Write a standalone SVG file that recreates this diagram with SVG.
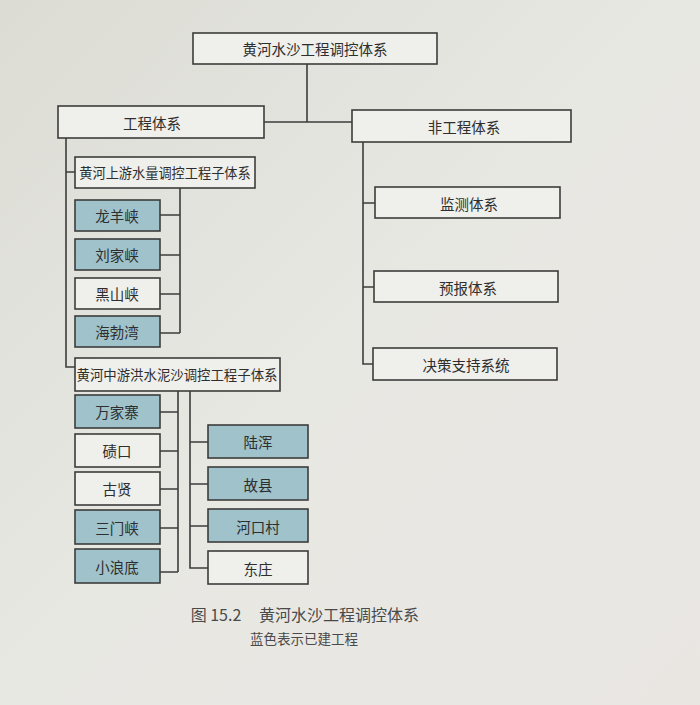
<svg xmlns="http://www.w3.org/2000/svg" width="700" height="705" viewBox="0 0 700 705">
<defs>
<linearGradient id="bg" x1="0" y1="0" x2="1" y2="1">
<stop offset="0" stop-color="#dcdcd5"/>
<stop offset="0.5" stop-color="#e8e8e3"/>
<stop offset="1" stop-color="#e9e6e2"/>
</linearGradient>
</defs>
<style>
.b{fill:#efefeb;stroke:#3c3c3c;stroke-width:1.6}
.blue{fill:#9fc2cb;stroke:#3c3c3c;stroke-width:1.6}
.t{font-family:"Noto Sans CJK SC","Noto Sans CJK JP",sans-serif;font-size:14.5px;fill:#2e2e2e;text-anchor:middle;dominant-baseline:central}
.c{fill:none;stroke:#3c3c3c;stroke-width:1.6}
.cap{font-family:"Noto Sans CJK SC",sans-serif;fill:#4a4a4a;text-anchor:middle;dominant-baseline:central}
</style>
<rect width="700" height="705" fill="url(#bg)"/>
<g id="connectors" class="c">
<path d="M307 64V122M264 122H352"/>
<path d="M66 138V367H75M66 172H75"/>
<path d="M180 188V333M160 215H180M160 255H180M160 294H180M160 333H180"/>
<path d="M178 391V572M160 412H178M160 451H178M160 489H178M160 528H178M160 572H178"/>
<path d="M190 391V568H208M190 442H208M190 484H208M190 526H208"/>
<path d="M363 142V364H374M363 203H375M363 287H374"/>
</g>
<g id="root"><rect class="b" x="193" y="33" width="244" height="31"/><text class="t" x="315" y="48">黄河水沙工程调控体系</text></g>
<g id="gc"><rect class="b" x="58" y="106" width="206" height="32"/><text class="t" x="152" y="122">工程体系</text></g>
<g id="fgc"><rect class="b" x="352" y="110" width="219" height="32"/><text class="t" x="464" y="126">非工程体系</text></g>
<g id="sy"><rect class="b" x="75" y="157" width="180" height="31"/><text class="t" x="165" y="172" style="font-size:13.2px">黄河上游水量调控工程子体系</text></g>
<g id="lyx"><rect class="blue" x="75" y="200" width="85" height="31"/><text class="t" x="117" y="215">龙羊峡</text></g>
<g id="ljx"><rect class="blue" x="75" y="239" width="85" height="31"/><text class="t" x="117" y="254">刘家峡</text></g>
<g id="hsx"><rect class="b" x="75" y="278" width="85" height="31"/><text class="t" x="117" y="293">黑山峡</text></g>
<g id="hbw"><rect class="blue" x="75" y="316" width="85" height="31"/><text class="t" x="117" y="331">海勃湾</text></g>
<g id="zy"><rect class="b" x="75" y="358" width="205" height="33"/><text class="t" x="177" y="374" style="font-size:13.4px">黄河中游洪水泥沙调控工程子体系</text></g>
<g id="wjz"><rect class="blue" x="75" y="395" width="85" height="33"/><text class="t" x="117" y="411">万家寨</text></g>
<g id="qk"><rect class="b" x="75" y="434" width="85" height="33"/><text class="t" x="117" y="450">碛口</text></g>
<g id="gx"><rect class="b" x="75" y="472" width="85" height="33"/><text class="t" x="117" y="488">古贤</text></g>
<g id="smx"><rect class="blue" x="75" y="510" width="85" height="34"/><text class="t" x="117" y="527">三门峡</text></g>
<g id="xld"><rect class="blue" x="75" y="549" width="85" height="34"/><text class="t" x="117" y="566">小浪底</text></g>
<g id="lh"><rect class="blue" x="208" y="425" width="100" height="33"/><text class="t" x="258" y="441">陆浑</text></g>
<g id="gux"><rect class="blue" x="208" y="467" width="100" height="33"/><text class="t" x="258" y="484">故县</text></g>
<g id="hkc"><rect class="blue" x="208" y="509" width="100" height="33"/><text class="t" x="258" y="526">河口村</text></g>
<g id="dz"><rect class="b" x="208" y="551" width="100" height="33"/><text class="t" x="258" y="568">东庄</text></g>
<g id="jc"><rect class="b" x="375" y="187" width="185" height="31"/><text class="t" x="469" y="203">监测体系</text></g>
<g id="yb"><rect class="b" x="374" y="271" width="184" height="31"/><text class="t" x="468" y="287">预报体系</text></g>
<g id="jczc"><rect class="b" x="373" y="348" width="184" height="32"/><text class="t" x="466" y="364">决策支持系统</text></g>
<text class="cap" x="216" y="614" style="font-size:16px">图 15.2</text>
<text class="cap" x="339" y="614" style="font-size:16px">黄河水沙工程调控体系</text>
<text class="cap" x="304" y="638" style="font-size:13.5px">蓝色表示已建工程</text>
</svg>
